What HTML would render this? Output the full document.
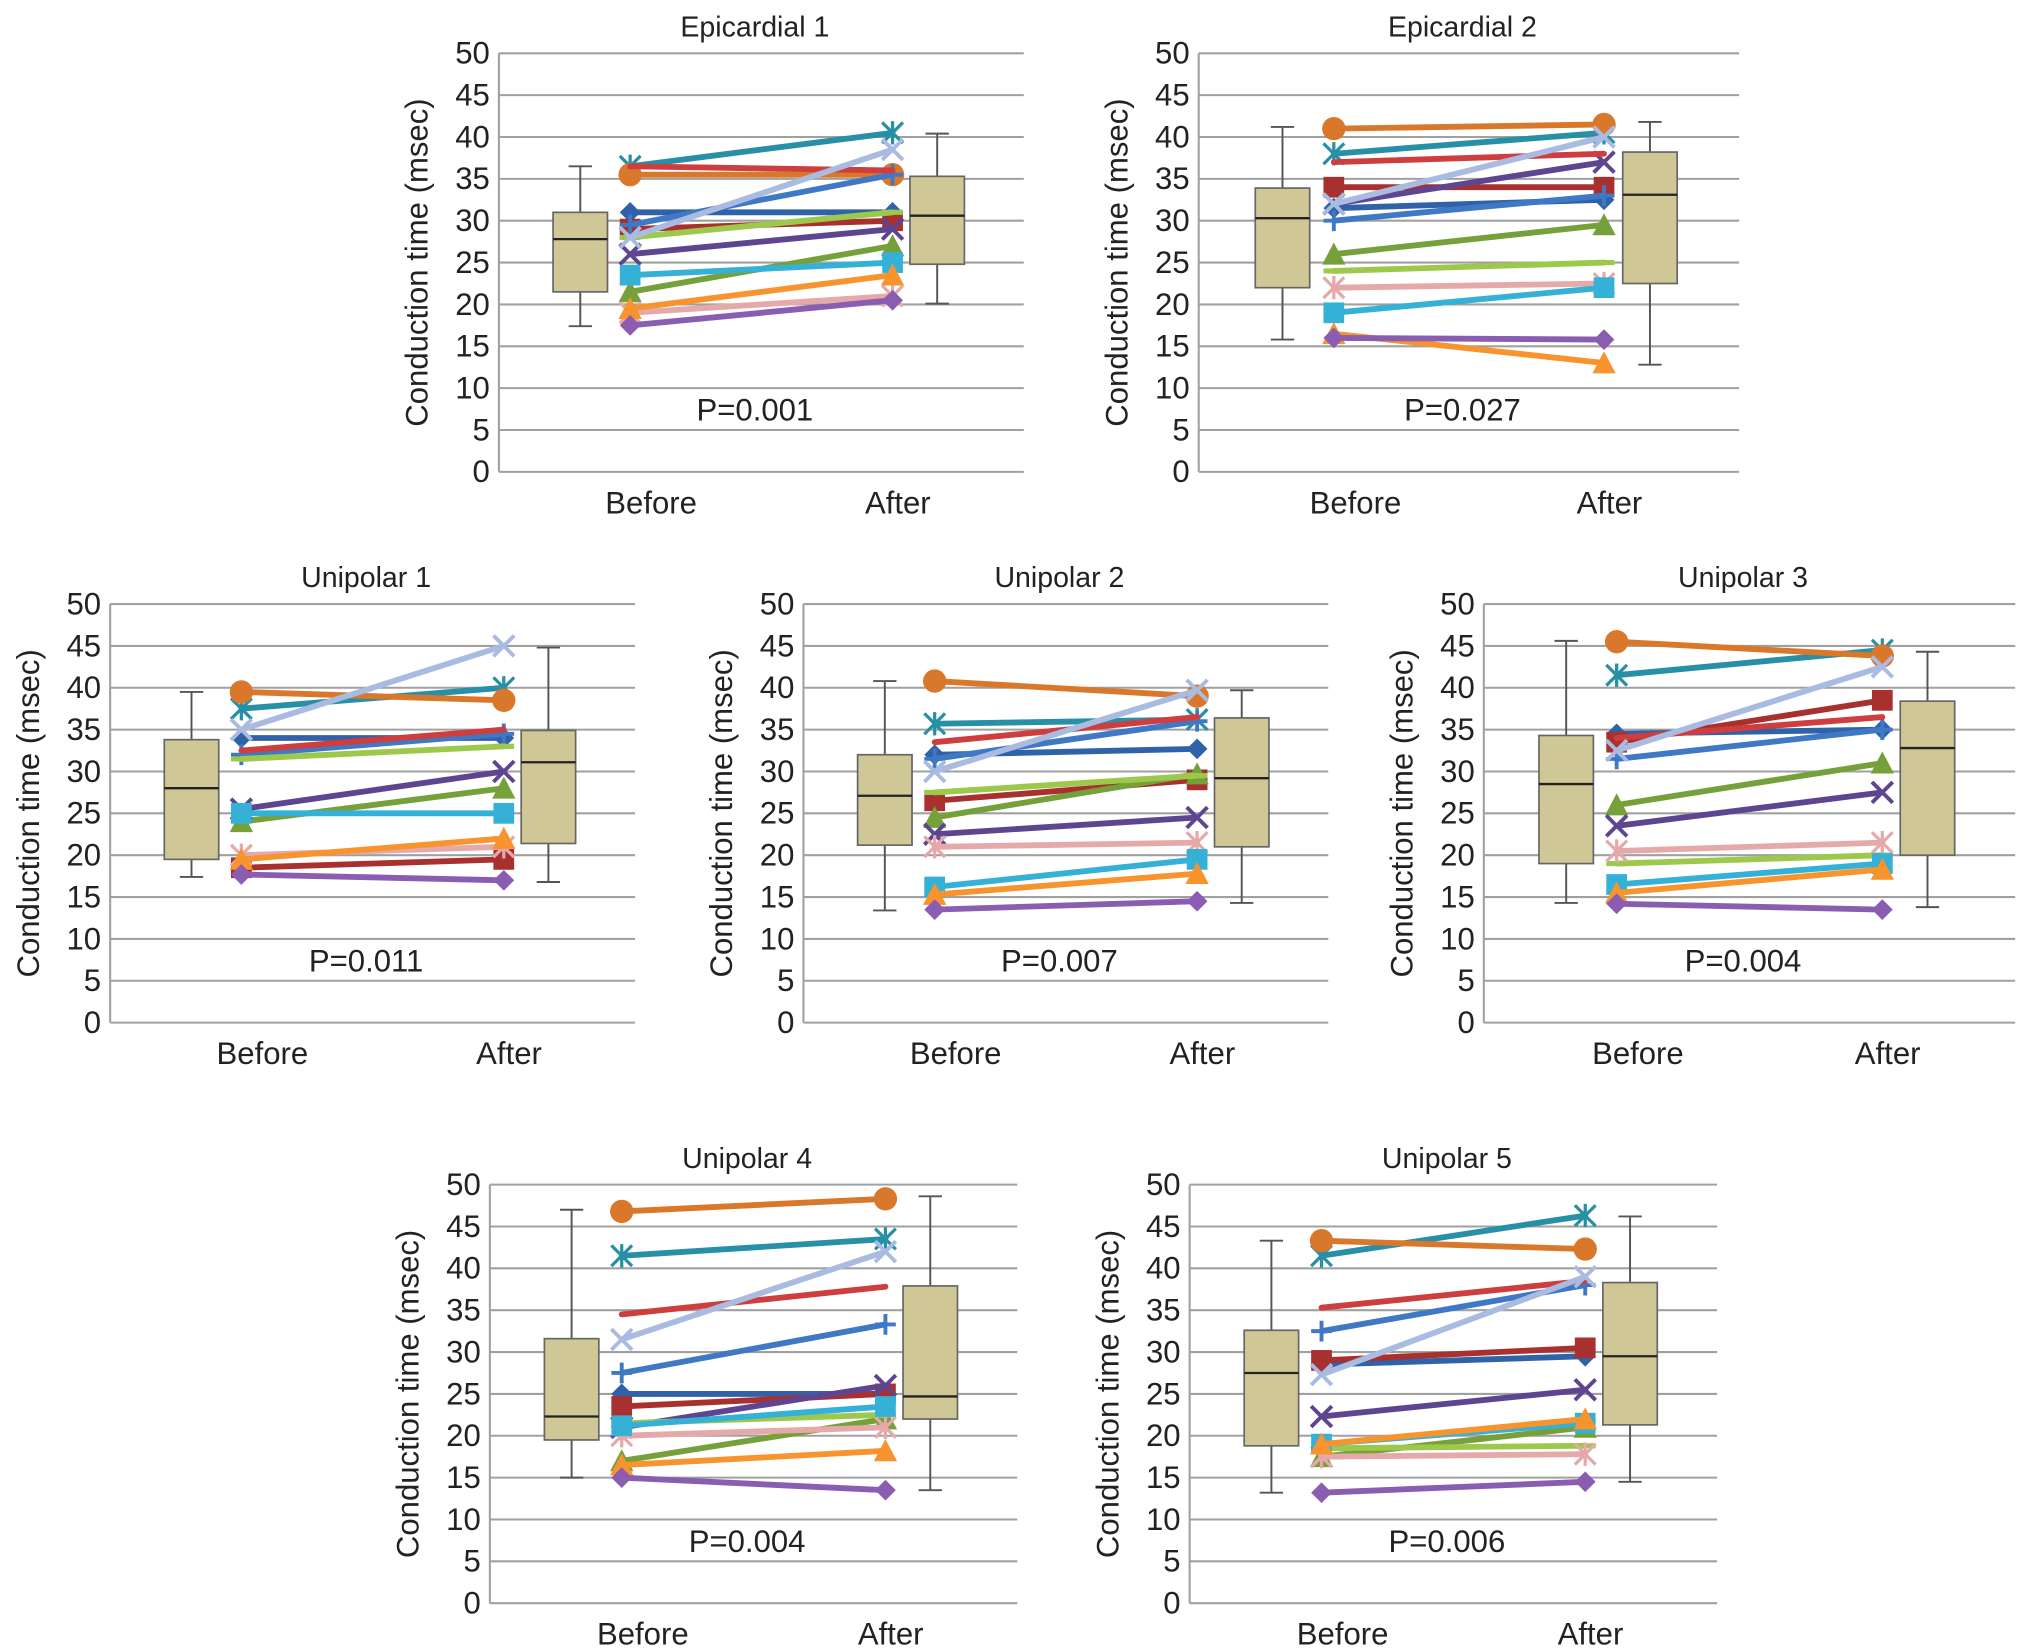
<!DOCTYPE html>
<html><head><meta charset="utf-8"><style>
html,body{margin:0;padding:0;background:#fff;}
svg{display:block;font-family:"Liberation Sans",Arial,sans-serif;}
</style></head><body>
<svg id="chart" width="2032" height="1650" viewBox="0 0 1568 1273" xmlns="http://www.w3.org/2000/svg"></svg>
<script>
const categories = ["Before", "After"];
const yTicks = [0,5,10,15,20,25,30,35,40,45,50];
const panelTitles = ["Epicardial 1","Epicardial 2","Unipolar 1","Unipolar 2","Unipolar 3","Unipolar 4","Unipolar 5"];
const pValues = ["P=0.001","P=0.027","P=0.011","P=0.007","P=0.004","P=0.004","P=0.006"];
// box stats per panel: [min, q1, median, q3, max] for before and after
const boxBefore = [[17.4,21.5,27.8,31,36.5],[15.8,22,30.3,33.9,41.2],[17.4,19.5,28,33.8,39.5],[13.4,21.2,27.1,32,40.8],[14.3,19,28.5,34.3,45.6],[15,19.5,22.3,31.6,47],[13.2,18.8,27.5,32.6,43.3]];
const boxAfter = [[20.1,24.8,30.6,35.3,40.4],[12.8,22.5,33.1,38.2,41.8],[16.8,21.4,31.1,34.9,44.8],[14.3,21,29.2,36.4,39.7],[13.8,20,32.8,38.4,44.3],[13.5,22,24.7,37.9,48.6],[14.5,21.3,29.5,38.3,46.2]];
// per-series values: for each panel [before, after]
const sBlueDiamond = [[31,31],[31.5,32.5],[34,34],[32,32.7],[34.5,35],[25,25],[28.5,29.5]];
const sRedSquare = [[29,30],[34,34],[18.5,19.5],[26.5,29],[33.5,38.5],[23.5,25],[29,30.5]];
const sGreenTri = [[21.5,27],[26,29.5],[24,28],[24.5,29.7],[26,31],[17,22],[17.5,21]];
const sPurpleX = [[26,29],[32,37],[25.5,30],[22.5,24.5],[23.5,27.5],[21,26],[22.3,25.5]];
const sTealStar = [[36.5,40.5],[38,40.5],[37.5,40],[35.7,36.2],[41.5,44.5],[41.5,43.5],[41.5,46.3]];
const sOrangeCircle = [[35.5,35.5],[41,41.5],[39.5,38.5],[40.8,39],[45.5,43.8],[46.8,48.3],[43.3,42.3]];
const sBluePlus = [[29.5,35.5],[30,33],[32,34.5],[31.5,36],[31.5,35],[27.5,33.3],[32.5,38]];
const sRedLine = [[36.5,36],[37,38],[32.5,35],[33.5,36.5],[34,36.5],[34.5,37.8],[35.3,38.5]];
const sLightGreen = [[28,31],[24,25],[31.5,33],[27.5,29.5],[19,20],[21.5,22.5],[18.5,18.8]];
const sLavender = [[28,38.5],[32,40],[35,45],[30,39.7],[32.5,42.5],[31.5,42],[27.3,39]];
const sPink = [[19,21],[22,22.5],[20,21],[21,21.5],[20.5,21.5],[20,21],[17.5,17.8]];
const sCyanSquare = [[23.5,25],[19,22],[25,25],[16.2,19.5],[16.5,19],[21.2,23.5],[19,21.5]];
const sOrangeTri = [[19.5,23.5],[16.5,13],[19.5,22],[15.3,17.8],[15.5,18.3],[16.5,18.2],[19,22]];
const sVioletDiamond = [[17.5,20.5],[16,15.8],[17.7,17],[13.5,14.5],[14.2,13.5],[15,13.5],[13.2,14.5]];

const seriesList = [
 {name:"series-blue-diamond",color:"#2f62a8",marker:"diamond",data:sBlueDiamond},
 {name:"series-red-square",color:"#a8302e",marker:"square",data:sRedSquare},
 {name:"series-green-triangle",color:"#76a03a",marker:"triangle",data:sGreenTri},
 {name:"series-purple-x",color:"#5f4590",marker:"x",data:sPurpleX},
 {name:"series-teal-star",color:"#2890a6",marker:"star",data:sTealStar},
 {name:"series-orange-circle",color:"#d9772a",marker:"circle",data:sOrangeCircle},
 {name:"series-blue-plus",color:"#3f78c4",marker:"plus",data:sBluePlus},
 {name:"series-red-line",color:"#cf3e3e",marker:"none",data:sRedLine},
 {name:"series-light-green",color:"#9cc94c",marker:"dash",data:sLightGreen},
 {name:"series-lavender",color:"#a9bbe0",marker:"x",data:sLavender},
 {name:"series-pink",color:"#e6a9a9",marker:"star",data:sPink},
 {name:"series-cyan-square",color:"#35b0d6",marker:"square",data:sCyanSquare},
 {name:"series-orange-triangle",color:"#f7942d",marker:"triangle",data:sOrangeTri},
 {name:"series-violet-diamond",color:"#8a5cb2",marker:"diamond",data:sVioletDiamond}
];
const layouts = [
 {L:385,R:790,T:41,B:364},{L:925,R:1342,T:41,B:364},
 {L:85,R:490,T:466,B:789},{L:620,R:1025,T:466,B:789},{L:1145,R:1555,T:466,B:789},
 {L:378,R:785,T:914,B:1237},{L:918,R:1325,T:914,B:1237}
];
const NS="http://www.w3.org/2000/svg";
const svg=document.getElementById('chart');
function mk(tag,attrs,parent){const e=document.createElementNS(NS,tag);for(const k in attrs)e.setAttribute(k,attrs[k]);parent.appendChild(e);return e;}

function drawMarker(g,type,x,y,c){
 const s=8;
 if(type==="diamond"){const m=mk('polygon',{points:`${x},${y-s} ${x+s},${y} ${x},${y+s} ${x-s},${y}`,fill:c},g);}
 else if(type==="square"){const m=mk('rect',{x:x-s,y:y-s,width:2*s,height:2*s,fill:c},g);}
 else if(type==="triangle"){const m=mk('polygon',{points:`${x},${y-s-1} ${x+s+1},${y+s} ${x-s-1},${y+s}`,fill:c},g);}
 else if(type==="circle"){const m=mk('circle',{cx:x,cy:y,r:s+1,fill:c},g);}
 else if(type==="x"){const m=mk('path',{d:`M${x-s},${y-s}L${x+s},${y+s}M${x-s},${y+s}L${x+s},${y-s}`,stroke:c,'stroke-width':3,fill:'none'},g);}
 else if(type==="star"){const m=mk('path',{d:`M${x-s},${y-s}L${x+s},${y+s}M${x-s},${y+s}L${x+s},${y-s}M${x},${y-s-1}L${x},${y+s+1}`,stroke:c,'stroke-width':2.5,fill:'none'},g);}
 else if(type==="plus"){const m=mk('path',{d:`M${x-s},${y}L${x+s},${y}M${x},${y-s}L${x},${y+s}`,stroke:c,'stroke-width':3,fill:'none'},g);}
 else if(type==="dash"){const m=mk('path',{d:`M${x-s},${y}L${x+s},${y}`,stroke:c,'stroke-width':4,fill:'none'},g);}
}

layouts.forEach((lay,p)=>{
 const g=mk('g',{},svg);
 
 
 const yS=v=>lay.B-(v/50)*(lay.B-lay.T);
 const W=lay.R-lay.L;
 const xPt=[lay.L+W*0.25,lay.L+W*0.75];
 const xBox=[lay.L+W*0.155,lay.L+W*0.835];
 const xLab=[lay.L+W*0.29,lay.L+W*0.76];
 yTicks.forEach(t=>{
  const ln=mk('line',{x1:lay.L,x2:lay.R,y1:yS(t),y2:yS(t),stroke:'#a0a0a0','stroke-width':1.6},g);
  
  
  const tx=mk('text',{x:lay.L-7,y:yS(t)+8,'text-anchor':'end','font-size':24,fill:'#222'},g);
  tx.textContent=t;
  
  
 });
 const ax=mk('line',{x1:lay.L,x2:lay.L,y1:lay.T,y2:lay.B,stroke:'#a0a0a0','stroke-width':1.6},g);
 
 
 const tt=mk('text',{x:(lay.L+lay.R)/2-5,y:lay.T-13,'text-anchor':'middle','font-size':22,fill:'#222'},g);
 tt.textContent=panelTitles[p];
 
 
 const yt=mk('text',{x:0,y:0,'text-anchor':'middle','font-size':24,fill:'#222',transform:`translate(${lay.L-55},${(lay.T+lay.B)/2}) rotate(-90)`},g);
 yt.textContent="Conduction time (msec)";
 
 
 categories.forEach((c,i)=>{
  const cl=mk('text',{x:xLab[i],y:lay.B+32,'text-anchor':'middle','font-size':24,fill:'#222'},g);
  cl.textContent=c;
  
  
 });
 const pt=mk('text',{x:(lay.L+lay.R)/2-5,y:yS(7.5)+9,'text-anchor':'middle','font-size':24,fill:'#222'},g);
 pt.textContent=pValues[p];
 
 
 [boxBefore[p],boxAfter[p]].forEach((b,i)=>{
  const bx=xBox[i],hw=21;
  const bg=mk('g',{},g);
  
  
  mk('line',{x1:bx,x2:bx,y1:yS(b[0]),y2:yS(b[4]),stroke:'#555','stroke-width':1.5},bg);
  mk('line',{x1:bx-9,x2:bx+9,y1:yS(b[0]),y2:yS(b[0]),stroke:'#555','stroke-width':1.5},bg);
  mk('line',{x1:bx-9,x2:bx+9,y1:yS(b[4]),y2:yS(b[4]),stroke:'#555','stroke-width':1.5},bg);
  mk('rect',{x:bx-hw,y:yS(b[3]),width:2*hw,height:yS(b[1])-yS(b[3]),fill:'#cfc795',stroke:'#666','stroke-width':1.3},bg);
  mk('line',{x1:bx-hw,x2:bx+hw,y1:yS(b[2]),y2:yS(b[2]),stroke:'#222','stroke-width':1.8},bg);
 });
 seriesList.forEach(s=>{
  const sg=mk('g',{},g);
  
  
  const v=s.data[p];
  const ln=mk('line',{x1:xPt[0],y1:yS(v[0]),x2:xPt[1],y2:yS(v[1]),stroke:s.color,'stroke-width':4.5,'stroke-linecap':'round'},sg);
  
  
  drawMarker(sg,s.marker,xPt[0],yS(v[0]),s.color);
  drawMarker(sg,s.marker,xPt[1],yS(v[1]),s.color);
 });
});
</script>
</body></html>
